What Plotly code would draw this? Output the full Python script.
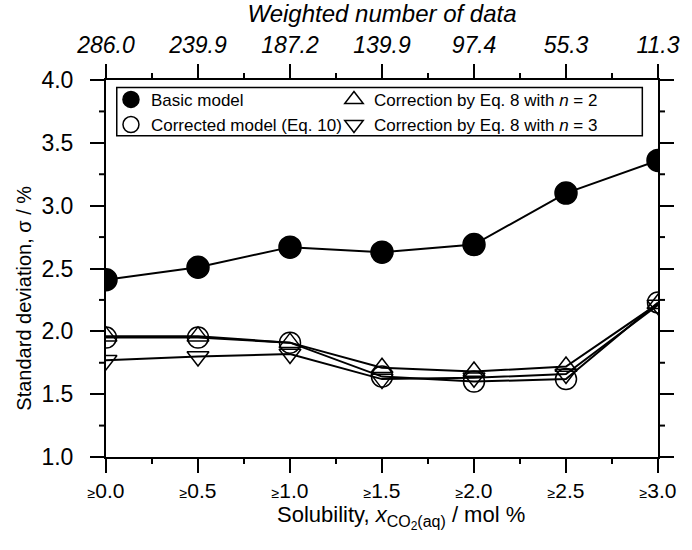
import plotly.graph_objects as go

# Solubility classes (x positions) and their labels
solubility = [0.0, 0.5, 1.0, 1.5, 2.0, 2.5, 3.0]
solubility_labels = ["≥0.0", "≥0.5", "≥1.0", "≥1.5", "≥2.0", "≥2.5", "≥3.0"]
weighted_counts = ["286.0", "239.9", "187.2", "139.9", "97.4", "55.3", "11.3"]
sigma_ticks = [1.0, 1.5, 2.0, 2.5, 3.0, 3.5, 4.0]

# Standard deviation (%) for each model
basic_model = [2.41, 2.51, 2.67, 2.63, 2.69, 3.10, 3.36]
corrected_model = [1.95, 1.95, 1.91, 1.64, 1.60, 1.62, 2.23]
eq8_n2 = [1.96, 1.96, 1.91, 1.71, 1.68, 1.72, 2.22]
eq8_n3 = [1.77, 1.80, 1.82, 1.62, 1.63, 1.66, 2.21]

X_RANGE = [solubility[0], solubility[-1]]
Y_RANGE = [sigma_ticks[0], sigma_ticks[-1]]

FONT = "Liberation Sans, Arial, Helvetica, sans-serif"
BLACK = "black"

fig = go.Figure()

series = [
    ("Basic model", basic_model, "circle", 22, "legend"),
    ("Corrected model (Eq. 10)", corrected_model, "circle-open", 21, "legend"),
    ("Correction by Eq. 8 with <i>n</i> = 2", eq8_n2, "triangle-up-open", 19, "legend2"),
    ("Correction by Eq. 8 with <i>n</i> = 3", eq8_n3, "triangle-down-open", 19, "legend2"),
]
for name, values, symbol, size, leg in series:
    fig.add_trace(go.Scatter(
        x=solubility, y=values, name=name, mode="lines+markers",
        line=dict(color=BLACK, width=2),
        marker=dict(symbol=symbol, size=size, color=BLACK,
                    line=dict(color=BLACK, width=1.5)),
        showlegend=False, xaxis="x", yaxis="y",
    ))
    # marker-only legend entry
    fig.add_trace(go.Scatter(
        x=[None], y=[None], name=name, mode="markers",
        marker=dict(symbol=symbol, size=size - 3, color=BLACK,
                    line=dict(color=BLACK, width=1.5)),
        legend=leg, xaxis="x", yaxis="y",
    ))

# empty trace that brings the top axis into the figure
fig.add_trace(go.Scatter(x=solubility, y=[None] * len(solubility),
                         xaxis="x2", yaxis="y", showlegend=False,
                         hoverinfo="skip"))

# half-step positions for the short ticks, as fractions of the plot area
x_minor = [(a + b) / 2 for a, b in zip(solubility, solubility[1:])]
y_minor = [(a + b) / 2 for a, b in zip(sigma_ticks, sigma_ticks[1:])]
x_minor_frac = [(v - X_RANGE[0]) / (X_RANGE[1] - X_RANGE[0]) for v in x_minor]
y_minor_frac = [(v - Y_RANGE[0]) / (Y_RANGE[1] - Y_RANGE[0]) for v in y_minor]

MINOR_LEN = 7
tick_line = dict(color=BLACK, width=2)
shapes = []
for fx in x_minor_frac:
    # bottom and top short ticks, pointing outward
    shapes.append(dict(type="line", xref="paper", yref="paper", ysizemode="pixel",
                       yanchor=0, x0=fx, x1=fx, y0=0, y1=-MINOR_LEN, line=tick_line))
    shapes.append(dict(type="line", xref="paper", yref="paper", ysizemode="pixel",
                       yanchor=1, x0=fx, x1=fx, y0=0, y1=MINOR_LEN, line=tick_line))
for fy in y_minor_frac:
    # left and right short ticks, pointing outward
    shapes.append(dict(type="line", xref="paper", yref="paper", xsizemode="pixel",
                       xanchor=0, y0=fy, y1=fy, x0=0, x1=-MINOR_LEN, line=tick_line))
    shapes.append(dict(type="line", xref="paper", yref="paper", xsizemode="pixel",
                       xanchor=1, y0=fy, y1=fy, x0=0, x1=MINOR_LEN, line=tick_line))

# legend frame spanning both legend columns
shapes.append(dict(type="rect", xref="paper", yref="paper",
                   x0=0.0195, x1=0.9716, y0=0.852, y1=0.98,
                   line=dict(color=BLACK, width=1.5), fillcolor="white",
                   layer="below"))

small_ge = ["<span style='font-size:14px'>≥</span>" + s[1:] for s in solubility_labels]

axis_common = dict(
    showline=True, linecolor=BLACK, linewidth=2,
    ticks="outside", ticklen=14, tickwidth=2, tickcolor=BLACK,
    showgrid=False, zeroline=False,
)

fig.update_layout(
    width=692, height=550,
    margin=dict(l=106, r=23, t=74, b=93),
    paper_bgcolor="white", plot_bgcolor="white",
    font=dict(family=FONT, color=BLACK, size=18),
    xaxis=dict(
        **axis_common,
        range=X_RANGE, tickmode="array", tickvals=solubility, ticktext=small_ge,
        tickfont=dict(size=21), ticklabelstandoff=0,
    ),
    xaxis2=dict(
        **axis_common,
        overlaying="x", side="top",
        range=X_RANGE, tickmode="array", tickvals=solubility, ticktext=weighted_counts,
        tickfont=dict(size=23, style="italic"), ticklabelstandoff=2,
        title=dict(text="Weighted number of data",
                   font=dict(size=24, style="italic"), standoff=3),
    ),
    yaxis=dict(
        **axis_common,
        mirror="ticks",
        range=Y_RANGE, tickmode="array", tickvals=sigma_ticks,
        ticktext=[f"{v:.1f}" for v in sigma_ticks],
        tickfont=dict(size=23), ticklabelstandoff=12,
    ),
    legend=dict(
        orientation="v", x=0.009, y=0.995, xanchor="left", yanchor="top",
        borderwidth=0, bgcolor="rgba(0,0,0,0)", font=dict(size=17),
        itemsizing="trace",
    ),
    legend2=dict(
        orientation="v", x=0.413, y=0.995, xanchor="left", yanchor="top",
        borderwidth=0, bgcolor="rgba(0,0,0,0)", font=dict(size=17),
        itemsizing="trace",
    ),
    shapes=shapes,
    annotations=[
        dict(text=("Solubility, <i>x</i><sub><span style='font-size:16px'>CO</span>"
                   "<sub><span style='font-size:12px'>2</span></sub>"
                   "<span style='font-size:16px'>(aq)</span></sub> / mol %"),
             xref="paper", yref="paper", x=0.535, y=0, xanchor="center",
             yanchor="top", yshift=-43, showarrow=False, font=dict(size=22)),
        dict(text="Standard deviation, σ / %", textangle=-90,
             xref="paper", yref="paper", x=0, y=0.42, xanchor="center",
             yanchor="middle", xshift=-82, showarrow=False, font=dict(size=20)),
    ],
    showlegend=True,
)

fig.write_html("out.html")
